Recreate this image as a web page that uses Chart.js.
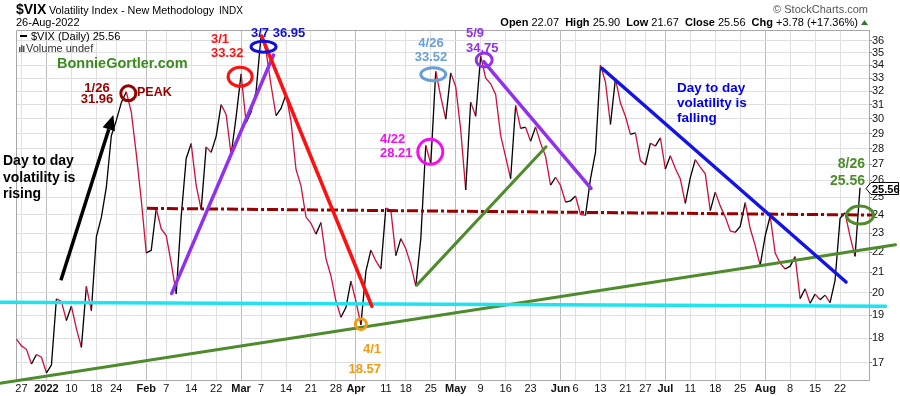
<!DOCTYPE html>
<html>
<head>
<meta charset="utf-8">
<title>$VIX Daily</title>
<script src="https://cdn.jsdelivr.net/npm/chart.js@4.4.1/dist/chart.umd.min.js"></script>
<style>
  html, body { margin: 0; padding: 0; background: #fff; }
  #wrap { width: 900px; height: 396px; }
</style>
</head>
<body>
<div id="wrap"><canvas id="vixChart" width="900" height="396"></canvas></div>
<script>
// trading days shown on the chart (Dec 23 2021 .. Aug 26 2022)
const tradeDates = [
  '12/23','12/27','12/28','12/29','12/30','12/31',
  '1/3','1/4','1/5','1/6','1/7','1/10','1/11','1/12','1/13','1/14','1/18','1/19','1/20','1/21','1/24','1/25','1/26','1/27','1/28','1/31',
  '2/1','2/2','2/3','2/4','2/7','2/8','2/9','2/10','2/11','2/14','2/15','2/16','2/17','2/18','2/22','2/23','2/24','2/25','2/28',
  '3/1','3/2','3/3','3/4','3/7','3/8','3/9','3/10','3/11','3/14','3/15','3/16','3/17','3/18','3/21','3/22','3/23','3/24','3/25','3/28','3/29','3/30','3/31',
  '4/1','4/4','4/5','4/6','4/7','4/8','4/11','4/12','4/13','4/14','4/18','4/19','4/20','4/21','4/22','4/25','4/26','4/27','4/28','4/29',
  '5/2','5/3','5/4','5/5','5/6','5/9','5/10','5/11','5/12','5/13','5/16','5/17','5/18','5/19','5/20','5/23','5/24','5/25','5/26','5/27','5/31',
  '6/1','6/2','6/3','6/6','6/7','6/8','6/9','6/10','6/13','6/14','6/15','6/16','6/17','6/21','6/22','6/23','6/24','6/27','6/28','6/29','6/30',
  '7/1','7/5','7/6','7/7','7/8','7/11','7/12','7/13','7/14','7/15','7/18','7/19','7/20','7/21','7/22','7/25','7/26','7/27','7/28','7/29',
  '8/1','8/2','8/3','8/4','8/5','8/8','8/9','8/10','8/11','8/12','8/15','8/16','8/17','8/18','8/19','8/22','8/23','8/24','8/25','8/26'
];

// daily closes, same order as tradeDates
const closes = [
  17.96, 17.68, 17.54, 16.95, 17.33, 17.22,
  16.60, 16.91, 19.73, 19.61, 18.76, 19.40, 18.41, 17.62, 20.31, 19.19, 22.79, 23.85, 25.59, 28.85, 29.90, 31.16, 31.96, 30.49, 27.66, 24.83,
  21.96, 22.09, 24.35, 23.22, 22.86, 21.44, 19.96, 23.91, 27.36, 28.33, 25.70, 24.29, 28.11, 27.75, 28.81, 31.02, 30.32, 27.59, 30.15,
  33.32, 29.74, 30.48, 31.98, 36.45, 35.13, 32.45, 30.23, 30.75, 31.77, 29.83, 26.67, 25.67, 23.87, 23.53, 22.94, 23.57, 21.67, 20.81, 19.63, 18.90, 19.33, 20.56,
  19.63, 18.57, 21.03, 22.10, 21.55, 21.16, 24.37, 24.26, 21.82, 22.70, 22.17, 21.37, 20.32, 22.68, 28.21, 27.02, 33.52, 31.60, 29.99, 33.40,
  32.34, 29.25, 25.42, 31.20, 30.19, 34.75, 32.99, 32.56, 31.77, 28.87, 27.47, 26.10, 30.96, 29.35, 29.43, 28.48, 29.45, 28.37, 27.50, 25.72, 26.19,
  25.69, 24.72, 24.79, 25.07, 24.02, 23.96, 26.09, 27.75, 34.02, 32.69, 29.62, 32.95, 31.13, 30.19, 28.95, 29.05, 27.23, 26.95, 28.36, 28.16, 28.71,
  26.70, 27.54, 26.73, 26.08, 24.64, 26.17, 27.29, 26.82, 26.40, 24.23, 25.30, 24.50, 23.88, 23.11, 23.03, 23.36, 24.69, 23.24, 22.33, 21.33,
  22.84, 23.93, 21.95, 21.44, 21.15, 21.29, 21.77, 19.74, 20.20, 19.53, 19.95, 19.69, 19.90, 19.56, 20.60, 23.80, 24.11, 22.82, 21.78, 25.56
];

// x axis labels
const tickDates = ['12/27','1/3','1/10','1/18','1/24','2/1','2/7','2/14','2/22','3/1','3/7','3/14','3/21','3/28',
  '4/1','4/11','4/18','4/25','5/2','5/9','5/16','5/23','6/1','6/6','6/13','6/21','6/27','7/1','7/11','7/18','7/25',
  '8/1','8/8','8/15','8/22'];
const tickLabels = ['27','2022','10','18','24','Feb','7','14','22','Mar','7','14','21','28',
  'Apr','11','18','25','May','9','16','23','Jun','6','13','21','27','Jul','11','18','25',
  'Aug','8','15','22'];
const monthLabels = ['2022','Feb','Mar','Apr','May','Jun','Jul','Aug'];

// y axis (log)
const yTicks = [17,18,19,20,21,22,23,24,25,26,27,28,29,30,31,32,33,34,35,36];
const yMin = 16.33;
const yMax = 36.91;

// hand drawn trend lines, [day index, value] pairs
const supportLine = [[-3.3, 19.57], [174.1, 19.39]];
const longTrend   = [[-3.3, 16.21], [176.1, 22.38]];
const pivotLine   = [[26.15, 24.36], [172.1, 23.98]];
const febRise     = [[31.1, 19.98], [51.5, 34.82]];
const marFall     = [[49.1, 36.40], [71.2, 19.39]];
const aprRise     = [[80.2, 20.37], [106.1, 28.12]];
const mayFall     = [[93.6, 34.28], [115.1, 25.52]];
const junFall     = [[117.3, 33.76], [166.2, 20.52]];
const riseArrow   = [[8.9, 20.6], [19.4, 30.28]];

// circled points, [day index, value]
const ringPeak  = [22.4, 31.85];
const ringMar1  = [44.8, 33.10];
const ringMar7  = [49.5, 35.50];
const ringApr22 = [82.9, 27.79];
const ringApr26 = [83.5, 33.29];
const ringMay9  = [93.7, 34.42];
const ringApr4  = [69.0, 18.60];
const ringAug26 = [169.0, 23.98];

const FF = 'Arial, "Liberation Sans", Helvetica, sans-serif';
const UP = '#000000';
const DOWN = '#d0103a';

const tickIdx = tickDates.map(d => tradeDates.indexOf(d));
const monthIdx = tickIdx.filter((v, i) => monthLabels.includes(tickLabels[i]));

const overlay = {
  id: 'overlay',
  beforeDatasetsDraw(chart) {
    const { ctx, chartArea: a } = chart;
    ctx.save();
    ctx.strokeStyle = '#a8a8a8';
    ctx.lineWidth = 1;
    ctx.beginPath();
    ctx.moveTo(a.left + 0.5, a.bottom);
    ctx.lineTo(a.left + 0.5, a.top + 0.5);
    ctx.lineTo(a.right, a.top + 0.5);
    ctx.stroke();
    ctx.restore();
  },
  afterDatasetsDraw(chart) {
    const { ctx } = chart;
    const xs = chart.scales.x, ys = chart.scales.y;
    const toPx = p => [xs.getPixelForValue(p[0]), ys.getPixelForValue(p[1])];

    const line = (pts, color, width, dash) => {
      const a = toPx(pts[0]), b = toPx(pts[1]);
      ctx.save();
      ctx.strokeStyle = color;
      ctx.lineWidth = width;
      ctx.lineCap = dash ? 'butt' : 'round';
      if (dash) ctx.setLineDash(dash);
      ctx.beginPath();
      ctx.moveTo(a[0], a[1]);
      ctx.lineTo(b[0], b[1]);
      ctx.stroke();
      ctx.restore();
    };
    const ring = (p, rx, ry, color) => {
      const c = toPx(p);
      ctx.save();
      ctx.strokeStyle = color;
      ctx.lineWidth = 3;
      ctx.beginPath();
      ctx.ellipse(c[0], c[1], rx, ry, 0, 0, Math.PI * 2);
      ctx.stroke();
      ctx.restore();
    };

    line(longTrend, '#4d8b2d', 3);
    line(supportLine, '#1fe3ef', 3.5);
    line(pivotLine, '#990000', 3, [11, 3, 3, 3]);
    line(febRise, '#9231ec', 3.5);
    line(marFall, '#ff1010', 3.5);
    line(aprRise, '#4d8b2d', 3);
    line(mayFall, '#9231ec', 3.5);
    line(junFall, '#1414e6', 3.5);

    // arrow
    const a0 = toPx(riseArrow[0]), a1 = toPx(riseArrow[1]);
    const ang = Math.atan2(a1[1] - a0[1], a1[0] - a0[0]);
    const hl = 15, hw = 6.5;
    const bx = a1[0] - hl * Math.cos(ang), by = a1[1] - hl * Math.sin(ang);
    ctx.save();
    ctx.strokeStyle = '#000';
    ctx.fillStyle = '#000';
    ctx.lineWidth = 3.5;
    ctx.beginPath();
    ctx.moveTo(a0[0], a0[1]);
    ctx.lineTo(bx, by);
    ctx.stroke();
    ctx.beginPath();
    ctx.moveTo(a1[0], a1[1]);
    ctx.lineTo(bx + hw * Math.sin(ang), by - hw * Math.cos(ang));
    ctx.lineTo(bx - hw * Math.sin(ang), by + hw * Math.cos(ang));
    ctx.closePath();
    ctx.fill();
    ctx.restore();

    ring(ringPeak, 7.5, 7.5, '#990000');
    ring(ringMar1, 12, 9.5, '#ff1010');
    ring(ringMar7, 12.5, 5.5, '#1010d8');
    ring(ringApr22, 12.5, 12.5, '#f010f0');
    ring(ringApr26, 12.5, 6.5, '#6a9fd4');
    ring(ringMay9, 8, 7, '#9231ec');
    ring(ringApr4, 5.5, 5.5, '#f39a14');
    ring(ringAug26, 13.5, 9, '#4d8b2d');
  },
  afterDraw(chart) {
    const { ctx } = chart;
    const txt = (s, x, y, font, color, align) => {
      ctx.font = font + ' ' + FF;
      ctx.fillStyle = color || '#000';
      ctx.textAlign = align || 'left';
      ctx.textBaseline = 'alphabetic';
      ctx.fillText(s, x, y);
    };
    ctx.save();
    // header
    txt('$VIX', 16, 14, 'bold 14px');
    txt('Volatility Index - New Methodology', 49, 14, '10.8px');
    txt('INDX', 219, 14, '10px');
    txt('26-Aug-2022', 16, 26, '11px');
    txt('\u00A9 StockCharts.com', 868, 13, '11px', '#555', 'right');

    const last = closes[closes.length - 1];
    const prev = closes[closes.length - 2];
    const parts = [
      ['Open ', 'bold'], ['22.07  ', ''], ['High ', 'bold'], ['25.90  ', ''],
      ['Low ', 'bold'], ['21.67  ', ''], ['Close ', 'bold'], [last.toFixed(2) + '  ', ''],
      ['Chg ', 'bold'], ['+' + (last - prev).toFixed(2) + ' (+' + ((last / prev - 1) * 100).toFixed(2) + '%)', '']
    ];
    let w = 0;
    parts.forEach(p => { ctx.font = (p[1] ? 'bold ' : '') + '11px ' + FF; w += ctx.measureText(p[0]).width; });
    let x = 858 - w;
    parts.forEach(p => {
      txt(p[0], x, 26, (p[1] ? 'bold ' : '') + '11px');
      x += ctx.measureText(p[0]).width;
    });
    ctx.fillStyle = '#2e7d32';
    ctx.beginPath();
    ctx.moveTo(861, 25); ctx.lineTo(868, 25); ctx.lineTo(864.5, 20); ctx.closePath(); ctx.fill();

    // legend
    ctx.fillStyle = '#000';
    ctx.fillRect(20, 35, 7, 2);
    txt('$VIX (Daily) ' + last.toFixed(2), 31, 40, '11px');
    ctx.fillStyle = '#555';
    ctx.fillRect(19, 47, 1.5, 5); ctx.fillRect(21, 45, 1.5, 7); ctx.fillRect(23, 46, 1.5, 6);
    txt('Volume undef', 26, 52, '11px', '#333');

    txt('BonnieGortler.com', 57, 68, 'bold 14.5px', '#3b8b21');

    // callouts
    txt('1/26', 97, 92, 'bold 13px', '#990000', 'center');
    txt('31.96', 97, 102.5, 'bold 13px', '#990000', 'center');
    txt('PEAK', 137, 96, 'bold 12.5px', '#990000');
    txt('3/1', 211, 43, 'bold 13px', '#ff1010');
    txt('33.32', 211, 56.5, 'bold 13px', '#ff1010');
    txt('3/7 36.95', 251, 37, 'bold 13px', '#1010d8');
    txt('4/26', 431, 47, 'bold 13px', '#6a9fd4', 'center');
    txt('33.52', 431, 61, 'bold 13px', '#6a9fd4', 'center');
    txt('4/22', 380, 143, 'bold 13px', '#f010f0');
    txt('28.21', 380, 157, 'bold 13px', '#f010f0');
    txt('5/9', 466, 37, 'bold 13px', '#9231ec');
    txt('34.75', 466, 51.5, 'bold 13px', '#9231ec');
    txt('4/1', 381, 353, 'bold 13px', '#f39a14', 'right');
    txt('18.57', 381, 373, 'bold 13px', '#f39a14', 'right');
    txt('8/26', 865, 168, 'bold 14px', '#4d8b2d', 'right');
    txt('25.56', 865, 185, 'bold 14px', '#4d8b2d', 'right');

    txt('Day to day', 3, 165, 'bold 14px');
    txt('volatility is', 3, 181.5, 'bold 14px');
    txt('rising', 3, 198, 'bold 14px');
    txt('Day to day', 677, 91.5, 'bold 13.5px', '#0000ee');
    txt('volatility is', 677, 106.5, 'bold 13.5px', '#0000ee');
    txt('falling', 677, 121.5, 'bold 13.5px', '#0000ee');

    // last value tag on the price axis
    const ty = Math.round(chart.scales.y.getPixelForValue(last)) + 0.5;
    ctx.fillStyle = '#fff';
    ctx.strokeStyle = '#000';
    ctx.lineWidth = 1;
    ctx.beginPath();
    ctx.moveTo(866, ty);
    ctx.lineTo(871, ty - 6);
    ctx.lineTo(898.5, ty - 6);
    ctx.lineTo(898.5, ty + 6);
    ctx.lineTo(871, ty + 6);
    ctx.closePath();
    ctx.fill();
    ctx.stroke();
    txt(last.toFixed(2), 872, ty + 4, 'bold 11px', '#000');
    ctx.restore();
  }
};

new Chart(document.getElementById('vixChart'), {
  type: 'line',
  data: {
    datasets: [{
      label: '$VIX (Daily)',
      data: closes.map((v, i) => ({ x: i, y: v })),
      borderWidth: 1.3,
      pointRadius: 0,
      tension: 0,
      borderColor: UP,
      segment: {
        borderColor: c => c.p1.parsed.y < c.p0.parsed.y ? DOWN : UP
      }
    }]
  },
  options: {
    responsive: false,
    animation: false,
    events: [],
    layout: { padding: { left: 16, top: 30, right: 0, bottom: 0 } },
    plugins: { legend: { display: false }, tooltip: { enabled: false } },
    scales: {
      x: {
        type: 'linear',
        min: -0.1,
        max: 170.8,
        afterBuildTicks: s => { s.ticks = tickIdx.map(v => ({ value: v })); },
        afterFit: s => { s.height = 16; },
        grid: {
          color: c => monthIdx.includes(c.tick && c.tick.value) ? '#bcbcbc' : '#e0e0e0',
          drawTicks: false
        },
        border: { color: '#a8a8a8' },
        ticks: {
          autoSkip: false,
          maxRotation: 0,
          padding: 2,
          color: '#111',
          callback: (v, i) => tickLabels[i],
          font: c => ({
            family: FF,
            size: 11,
            weight: c.tick && monthLabels.includes(c.tick.label) ? 'bold' : 'normal'
          })
        }
      },
      y: {
        type: 'logarithmic',
        position: 'right',
        min: yMin,
        max: yMax,
        afterBuildTicks: s => { s.ticks = yTicks.map(v => ({ value: v })); },
        afterFit: s => { s.width = 31; },
        grid: { color: '#e0e0e0', tickColor: '#888', tickLength: 3 },
        border: { color: '#a8a8a8' },
        ticks: {
          padding: 0,
          color: '#111',
          font: { family: FF, size: 11 },
          callback: v => String(v)
        }
      }
    }
  },
  plugins: [overlay]
});
</script>
</body>
</html>
